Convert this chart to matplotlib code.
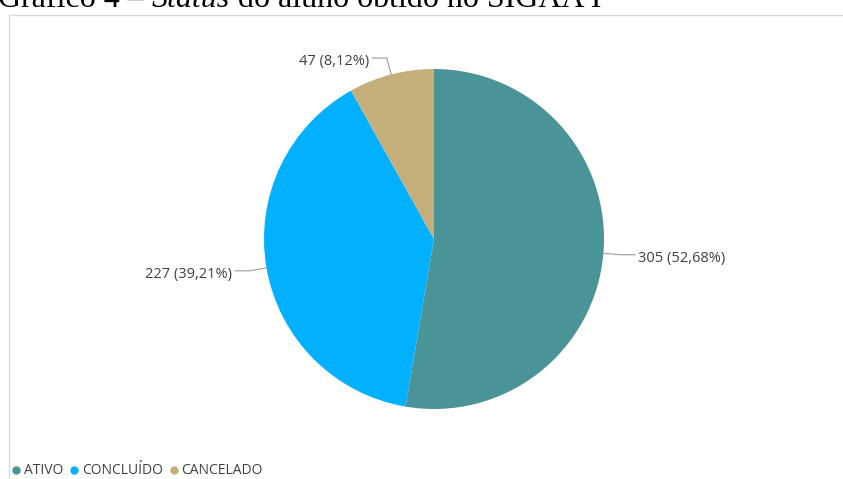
import matplotlib
matplotlib.use("Agg")
import matplotlib.pyplot as plt
from matplotlib.lines import Line2D
from matplotlib.patches import Rectangle
import numpy as np

categories = ["ATIVO", "CONCLUÍDO", "CANCELADO"]
values = [305, 227, 47]
percent_labels = ["52,68%", "39,21%", "8,12%"]
colors = ["#4A9396", "#01B0FE", "#C4AF7B"]

W, H = 843, 479
fig = plt.figure(figsize=(W / 100, H / 100), dpi=100)
renderer = fig.canvas.get_renderer()

# caption (partly cut at the top, as in the reference)
parts = [("Gráfico 4 – ", "normal"), ("Status", "italic"), (" do aluno obtido no SIGAA I", "normal")]
x = -2
for s, st in parts:
    t = fig.text(x / W, 1 - 7 / H, s, family="Liberation Serif", fontsize=23,
                 style=st, va="baseline", ha="left", color="black")
    bb = t.get_window_extent(renderer=renderer)
    x += bb.width

# light border
fig.patches.append(Rectangle((9 / W, -0.05), 1.0, 1 - 15 / H + 0.05, transform=fig.transFigure,
                             fill=False, edgecolor="#dadada", linewidth=1.0))

cx, cy, R = 434, 239, 170
ax = fig.add_axes([(cx - R) / W, 1 - (cy + R) / H, 2 * R / W, 2 * R / H])
wedges, _ = ax.pie(values, colors=colors, startangle=90, counterclock=False,
                   wedgeprops=dict(linewidth=0))
ax.set_xlim(-1, 1)
ax.set_ylim(-1, 1)
ax.set_aspect("equal")
ax.axis("off")

for w, v, p in zip(wedges, values, percent_labels):
    ang = np.deg2rad((w.theta1 + w.theta2) / 2)
    c, s = np.cos(ang), np.sin(ang)
    x0, y0 = c, s
    x1, y1 = 1.1 * c, 1.1 * s
    d = 1 if c >= 0 else -1
    x2 = x1 + d * 0.085
    ax.plot([x0, x1, x2], [y0, y1, y1], color="#a6a6a6", lw=0.9, clip_on=False,
            solid_joinstyle="miter")
    ax.text(x2 + d * 0.02, y1 - 0.02, f"{v} ({p})", ha="left" if d > 0 else "right",
            va="center", family="Open Sans", fontsize=10.5, color="#404040")

handles = [Line2D([], [], marker="o", linestyle="none", markersize=6,
                  markerfacecolor=col, markeredgewidth=0) for col in colors]
fig.legend(handles, categories, loc="center left", bbox_to_anchor=(12 / W, 1 - 471 / H),
           ncol=3, frameon=False, handlelength=0.6, handletextpad=0.25, columnspacing=0.5,
           borderpad=0, borderaxespad=0,
           prop=dict(family="Open Sans", size=10), labelcolor="#404040")

fig.savefig("out.png", dpi=100)
